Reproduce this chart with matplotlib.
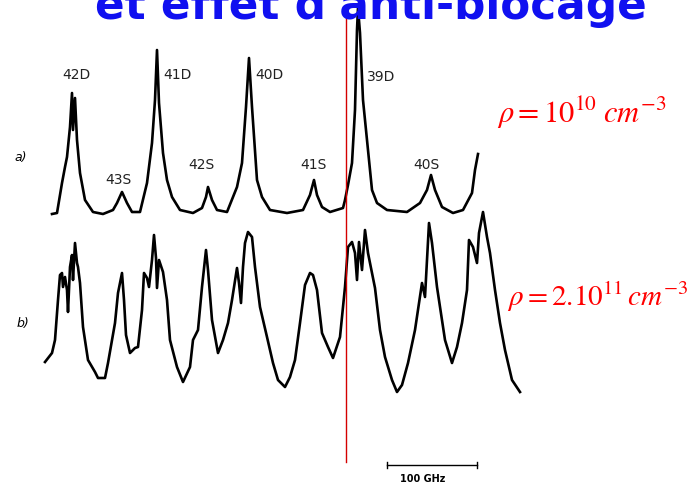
import matplotlib
matplotlib.use('Agg')
import matplotlib.pyplot as plt

# Digitised spectra, in page pixels (x to the right, y downwards)
# a) low density, rho = 1e10 cm^-3
trace_a_x = [52, 57, 62, 65, 67, 70, 72, 73, 75, 77, 80, 85, 93, 103, 113, 117, 122, 127,
             132, 140, 147, 152, 155, 157, 159, 163, 167, 172, 180, 193, 202, 206, 208, 212,
             217, 227, 237, 242, 246, 249, 252, 257, 262, 270, 287, 303, 310, 314, 317, 322,
             330, 343, 345, 348, 352, 355, 357, 358, 360, 363, 368, 372, 377, 387, 407, 420,
             427, 431, 435, 442, 453, 463, 472, 475, 478]
trace_a_y = [214, 213, 183, 167, 157, 127, 93, 130, 98, 140, 173, 200, 212, 214, 210, 203,
             192, 203, 212, 212, 183, 143, 100, 50, 103, 153, 180, 197, 210, 213, 208, 197,
             187, 200, 210, 212, 187, 163, 107, 58, 107, 180, 197, 210, 213, 210, 195, 180,
             195, 207, 212, 208, 200, 185, 163, 110, 30, 8, 33, 100, 150, 190, 203, 210, 212,
             203, 190, 175, 190, 207, 213, 210, 193, 170, 154]

# b) high density, rho = 2e11 cm^-3
trace_b_x = [45, 52, 55, 58, 60, 62, 63, 65, 67, 68, 70, 72, 73, 75, 77, 78, 80, 83, 88, 95,
             98, 105, 108, 115, 118, 122, 124, 126, 130, 135, 138, 142, 144, 147, 149, 152,
             154, 156, 157, 159, 163, 167, 170, 177, 183, 190, 193, 198, 202, 206, 208, 212,
             218, 223, 228, 232, 237, 239, 241, 243, 245, 248, 252, 255, 260, 267, 273, 278,
             285, 290, 295, 300, 305, 310, 313, 317, 322, 328, 333, 340, 345, 348, 352, 355,
             357, 359, 362, 365, 368, 372, 375, 380, 385, 392, 397, 402, 408, 415, 422, 425,
             429, 432, 437, 445, 452, 457, 462, 467, 469, 473, 477, 479, 483, 487, 490, 495,
             500, 505, 512, 520]
trace_b_y = [362, 353, 340, 300, 275, 273, 287, 277, 290, 312, 267, 255, 280, 243, 263, 267,
             283, 327, 360, 372, 378, 378, 363, 323, 293, 273, 300, 335, 353, 348, 347, 310,
             273, 278, 287, 260, 235, 258, 288, 260, 272, 300, 340, 367, 382, 367, 340, 330,
             287, 250, 270, 320, 353, 340, 323, 300, 268, 283, 303, 267, 243, 232, 237, 267,
             307, 337, 363, 380, 387, 377, 360, 323, 285, 273, 275, 290, 333, 347, 358, 337,
             287, 247, 242, 253, 280, 242, 270, 230, 253, 273, 288, 330, 357, 380, 392, 385,
             363, 330, 283, 297, 223, 243, 287, 340, 363, 347, 323, 290, 240, 247, 263, 233,
             212, 237, 253, 290, 323, 350, 380, 392]

peak_names = ['42D', '43S', '41D', '42S', '40D', '41S', '39D', '40S']
peak_label_xy = [(62, 75), (105, 180), (163, 75), (188, 165), (255, 75), (300, 165),
                 (367, 77), (413, 165)]

title = "et effet d'anti-blocage"
density_a = r'$\rho = 10^{10}\;cm^{-3}$'
density_b = r'$\rho = 2.10^{11}\,cm^{-3}$'

fig = plt.figure(figsize=(6.88, 4.86), dpi=100)
ax = fig.add_axes([0, 0, 1, 1])
ax.set_xlim(0, 688)
ax.set_ylim(486, 0)
ax.axis('off')

ax.plot(trace_a_x, trace_a_y, color='black', lw=1.9, solid_joinstyle='round')
ax.plot(trace_b_x, trace_b_y, color='black', lw=1.9, solid_joinstyle='round')

for name, (lx, ly) in zip(peak_names, peak_label_xy):
    ax.text(lx, ly, name, fontsize=10, ha='left', va='center', color='#222222')

ax.text(14, 157, 'a)', fontsize=9, style='italic', va='center')
ax.text(17, 323, 'b)', fontsize=9, style='italic', va='center')

# vertical marker line through the 39D line
ax.plot([346, 346], [12, 462], color='#d40000', lw=1.0)

# frequency scale bar
ax.plot([387, 477], [465, 465], color='black', lw=1.0)
ax.plot([387, 387], [462, 468], color='black', lw=1.0)
ax.plot([477, 477], [462, 468], color='black', lw=1.0)
ax.text(423, 479, '100 GHz', fontsize=7, ha='center', va='center', weight='bold')

ax.text(497, 113, density_a, fontsize=22, color='red', va='center', math_fontfamily='stix')
ax.text(507, 297, density_b, fontsize=21, color='red', va='center', math_fontfamily='stix')

# heading runs off the top of the page
ax.text(371, 19, title, fontsize=31.5, weight='bold', color='#1010f0', ha='center',
        va='baseline', clip_on=False)

fig.savefig('out.png', dpi=100)
